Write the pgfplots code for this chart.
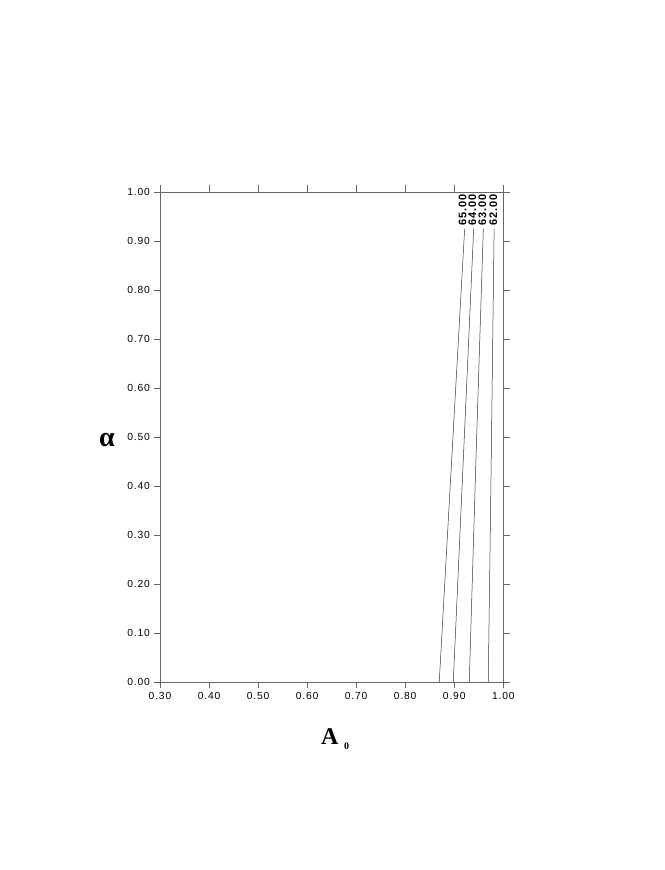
\documentclass[border=0pt]{standalone}
\usepackage{fontspec}
\setmainfont{Liberation Sans}
\newfontfamily\tickfont[LetterSpace=8]{Liberation Sans}
\newfontfamily\serifb{Liberation Serif}
\usepackage{pgfplots}
\pgfplotsset{compat=1.18}
\begin{document}
\begin{tikzpicture}[x=1pt,y=1pt]
\useasboundingbox (0,0) rectangle (664,870);
\begin{axis}[
  at={(160pt,188pt)}, anchor=south west,
  scale only axis, width=343.3pt, height=490pt,
  xmin=0.3, xmax=1.0, ymin=0, ymax=1,
  xtick={0.3,0.4,0.5,0.6,0.7,0.8,0.9,1.0},
  ytick={0,0.1,0.2,0.3,0.4,0.5,0.6,0.7,0.8,0.9,1.0},
  tick align=outside, tick pos=both, ticklabel pos=left,
  major tick length=6.5pt,
  ticklabel style={font=\fontsize{10.3}{12}\selectfont\tickfont},
  xticklabel style={/pgf/number format/.cd, fixed, fixed zerofill, precision=2, assume math mode=true},
  yticklabel style={/pgf/number format/.cd, fixed, fixed zerofill, precision=2, assume math mode=true},
  axis line style={black!60, line width=0.6pt},
  every tick/.style={black!60, line width=0.6pt},
  clip=false,
]
\addplot[black!80, line width=0.5pt] coordinates {(0.8694,0) (0.8947,0.453) (0.9212,0.925)};
\addplot[black!80, line width=0.5pt] coordinates {(0.8980,0) (0.9184,0.453) (0.9396,0.925)};
\addplot[black!80, line width=0.5pt] coordinates {(0.9306,0) (0.9442,0.453) (0.9593,0.925)};
\addplot[black!80, line width=0.5pt] coordinates {(0.9693,0) (0.9754,0.453) (0.9813,0.925)};
\node[rotate=90, inner sep=0pt, font=\fontsize{11}{12}\selectfont\tickfont\bfseries] at (axis cs:0.9171,0.963) {65.00};
\node[rotate=90, inner sep=0pt, font=\fontsize{11}{12}\selectfont\tickfont\bfseries] at (axis cs:0.9367,0.963) {64.00};
\node[rotate=90, inner sep=0pt, font=\fontsize{11}{12}\selectfont\tickfont\bfseries] at (axis cs:0.9571,0.963) {63.00};
\node[rotate=90, inner sep=0pt, font=\fontsize{11}{12}\selectfont\tickfont\bfseries] at (axis cs:0.9795,0.963) {62.00};
\end{axis}
\node[inner sep=0pt, font=\fontsize{28}{30}\selectfont\serifb\bfseries] at (107,430) {α};
\node[inner sep=0pt, anchor=base west, font=\fontsize{24}{26}\selectfont\serifb\bfseries] at (321,125) {A};
\node[inner sep=0pt, anchor=base west, font=\fontsize{10}{11}\selectfont\serifb\bfseries] at (344,120) {0};
\end{tikzpicture}
\end{document}
